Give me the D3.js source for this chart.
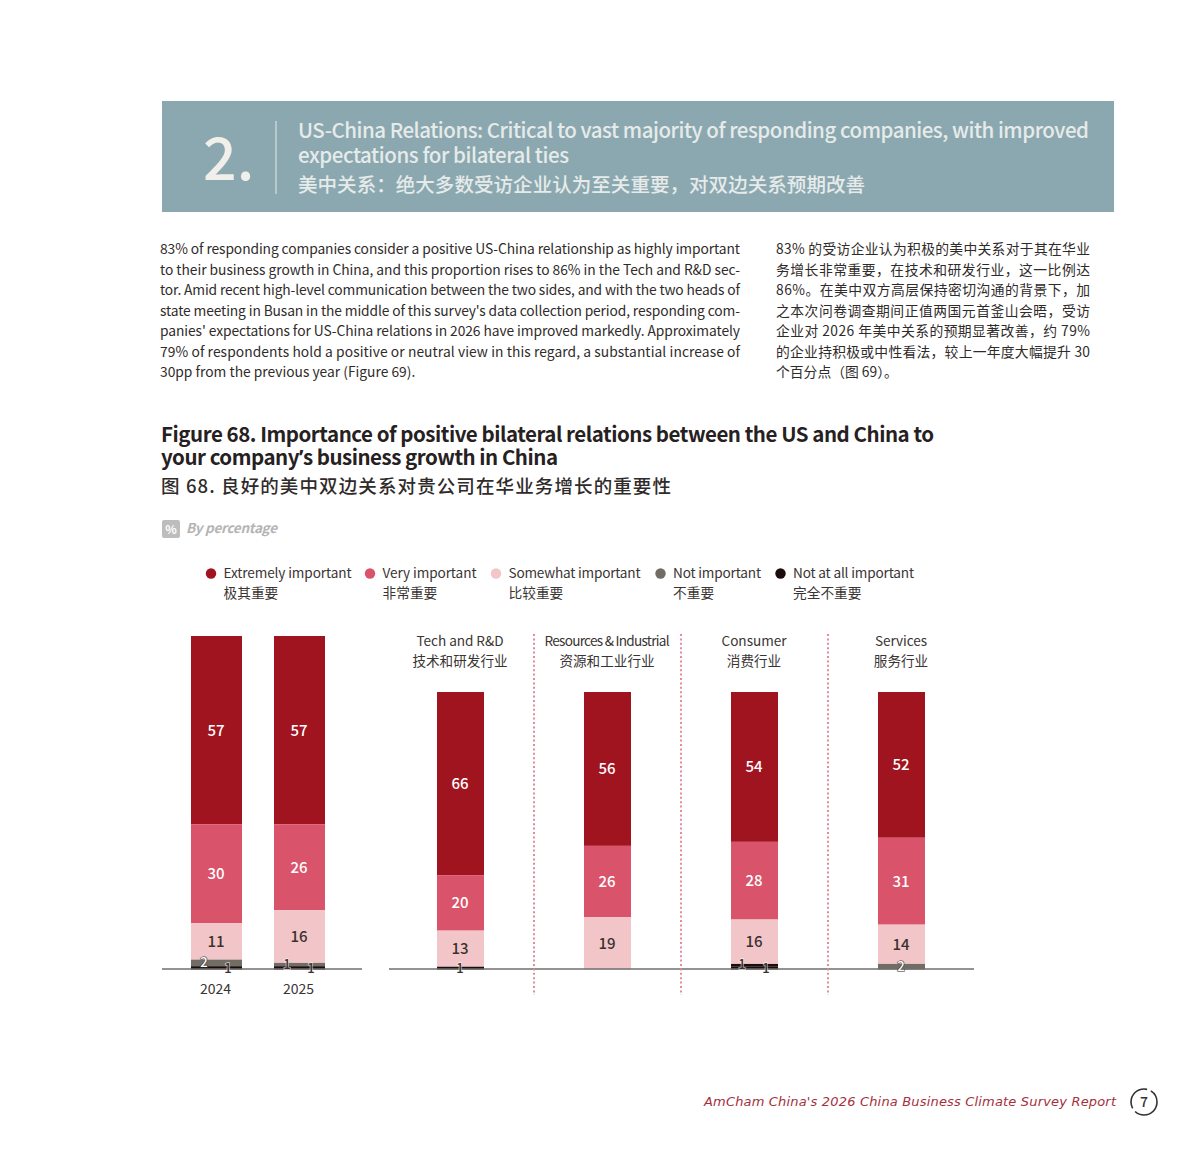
<!DOCTYPE html>
<html>
<head>
<meta charset="utf-8">
<title>Figure 68</title>
<script src="https://cdn.jsdelivr.net/npm/d3@7/dist/d3.min.js"></script>
<style>
  html, body { margin: 0; padding: 0; background: #fff; }
  svg { display: block; }
  text { font-family: "Noto Sans CJK SC", "Noto Sans", sans-serif; }
  tspan.apos { font-family: "Noto Sans", sans-serif; }
</style>
</head>
<body>
<svg id="page" width="1200" height="1155"></svg>
<script>
// data
var years = ["2024", "2025"];
var sectors = ["Tech and R&D", "Resources & Industrial", "Consumer", "Services"];
var sectorsCn = ["技术和研发行业", "资源和工业行业", "消费行业", "服务行业"];

var seriesNames = ["Extremely important", "Very important", "Somewhat important", "Not important", "Not at all important"];
var seriesNamesCn = ["极其重要", "非常重要", "比较重要", "不重要", "完全不重要"];

// order: 2024, 2025, then the four sectors
var extremely = [57, 57, 66, 56, 54, 52];
var very = [30, 26, 20, 26, 28, 31];
var somewhat = [11, 16, 13, 19, 16, 14];
var notImportant = [2, 1, 0, 0, 1, 2];
var notAtAll = [1, 1, 1, 0, 1, 0];

var bannerLines = [
    "US-China Relations: Critical to vast majority of responding companies, with improved",
    "expectations for bilateral ties"
];
var bannerCn = "美中关系：绝大多数受访企业认为至关重要，对双边关系预期改善";

var bodyEn = [
    "83% of responding companies consider a positive US-China relationship as highly important",
    "to their business growth in China, and this proportion rises to 86% in the Tech and R&D sec-",
    "tor. Amid recent high-level communication between the two sides, and with the two heads of",
    "state meeting in Busan in the middle of this survey's data collection period, responding com-",
    "panies' expectations for US-China relations in 2026 have improved markedly. Approximately",
    "79% of respondents hold a positive or neutral view in this regard, a substantial increase of",
    "30pp from the previous year (Figure 69)."
];
var bodyCn = [
    "83% 的受访企业认为积极的美中关系对于其在华业",
    "务增长非常重要，在技术和研发行业，这一比例达",
    "86%。在美中双方高层保持密切沟通的背景下，加",
    "之本次问卷调查期间正值两国元首釜山会晤，受访",
    "企业对 2026 年美中关系的预期显著改善，约 79%",
    "的企业持积极或中性看法，较上一年度大幅提升 30",
    "个百分点（图 69）。"
];

var figureTitle = [
    "Figure 68. Importance of positive bilateral relations between the US and China to",
    "your company’s business growth in China"
];
var figureTitleCn = "图 68. 良好的美中双边关系对贵公司在华业务增长的重要性";

var svg = d3.select("#page");
var colors = ["#a0141f", "#d9536b", "#f2c6c8", "#716c64", "#1b0d0d"];
var labelColors = ["#fff", "#fff", "#3a3230", "#fff", "#3a3230"];

var color = d3.scaleOrdinal(seriesNames, colors);
var labelColor = d3.scaleOrdinal(seriesNames, labelColors);

// banner
svg.append("rect").attr("x", 162).attr("y", 101).attr("width", 952).attr("height", 111).attr("fill", "#8ba8b0");
svg.append("text").attr("x", 203).attr("y", 180).attr("font-size", 59).attr("font-weight", 500)
    .attr("fill", "#f1efe9").text("2.");
svg.append("line").attr("x1", 276).attr("x2", 276).attr("y1", 121).attr("y2", 194)
    .attr("stroke", "#e8ebe9").attr("stroke-width", 1);
svg.selectAll(".banner").data(bannerLines).enter().append("text")
    .attr("class", "banner")
    .attr("x", 298)
    .attr("y", function(d, i) { return 138 + i * 24.5; })
    .attr("font-size", 20.5).attr("font-weight", 500).attr("fill", "#e6ebea")
    .attr("textLength", function(d, i) { return i == 0 ? 791 : 271; })
    .text(function(d) { return d; });
svg.append("text").attr("x", 298).attr("y", 192).attr("font-size", 19.5).attr("font-weight", 500)
    .attr("fill", "#e6ebea").attr("textLength", 567).text(bannerCn);

// body text
function bodyColumn(lines, x, width) {
    svg.append("g").selectAll("text").data(lines).enter().append("text")
        .attr("x", x)
        .attr("y", function(d, i) { return 254 + i * 20.5; })
        .attr("font-size", 13.8).attr("fill", "#2f2b2a")
        .attr("textLength", function(d, i) { return i < lines.length - 1 ? width : null; })
        .text(function(d) { return d; });
}
bodyColumn(bodyEn, 160, 580);
bodyColumn(bodyCn, 776, 314);

// figure title, the CJK font's curly quote is full width so it gets its own font
svg.append("g").selectAll("text").data(figureTitle).enter().append("text")
    .attr("x", 161)
    .attr("y", function(d, i) { return 442 + i * 23; })
    .attr("font-size", 20.5).attr("font-weight", 700).attr("fill", "#26211f")
    .attr("textLength", function(d, i) { return i == 0 ? 773 : 397; })
    .html(function(d) { return d.replace("’", '<tspan class="apos">’</tspan>'); });
svg.append("text").attr("x", 161).attr("y", 493).attr("font-size", 18.5).attr("font-weight", 500)
    .attr("fill", "#2f2b2a").attr("textLength", 510).text(figureTitleCn);

// unit tag
svg.append("rect").attr("x", 162).attr("y", 520).attr("width", 18).attr("height", 18).attr("rx", 2).attr("fill", "#bdbdbd");
svg.append("text").attr("x", 171).attr("y", 534).attr("text-anchor", "middle").attr("font-size", 12)
    .attr("font-weight", 700).attr("fill", "#fff").text("%");
svg.append("text").attr("x", 186).attr("y", 533).attr("font-size", 13.5).attr("font-style", "italic")
    .attr("font-weight", 700).attr("fill", "#b4b4b4").attr("textLength", 91).text("By percentage");

// legend
var legendX = d3.scaleOrdinal(seriesNames, [211, 370, 496, 660.5, 780.5]);
var legendWidth = d3.scaleOrdinal(seriesNames, [128, 94, 132, 88, 121]);
var legend = svg.append("g").selectAll("g").data(seriesNames).enter().append("g")
    .attr("transform", function(d) { return "translate(" + legendX(d) + ",0)"; });
legend.append("circle").attr("cy", 573.5).attr("r", 5.2).attr("fill", function(d) { return color(d); });
legend.append("text").attr("x", 12.5).attr("y", 578).attr("font-size", 13.6).attr("fill", "#3a3533")
    .attr("textLength", function(d) { return legendWidth(d); })
    .text(function(d) { return d; });
legend.append("text").attr("x", 12.5).attr("y", 598).attr("font-size", 13.7).attr("fill", "#3a3533")
    .text(function(d, i) { return seriesNamesCn[i]; });

// bars
var values = [extremely, very, somewhat, notImportant, notAtAll];
var allCategories = years.concat(sectors);
var rows = allCategories.map(function(c, i) {
    var row = { category: c };
    seriesNames.forEach(function(s, j) { row[s] = values[j][i]; });
    return row;
});
// every bar fills its panel even where rounding makes it 99 or 101
var stack = d3.stack().keys(seriesNames).order(d3.stackOrderReverse).offset(d3.stackOffsetExpand);
var stacked = stack(rows);

var BASELINE = 969.5;
var yYears = d3.scaleLinear().domain([1, 0]).range([636, BASELINE]);
var ySectors = d3.scaleLinear().domain([1, 0]).range([692, BASELINE]);
var xYears = d3.scaleBand().domain(years).range([191, 325]).paddingInner(32 / 83);
var xSectors = d3.scaleBand().domain(sectors).range([437, 925]).paddingInner(100 / 147);

function xOf(cat) { return years.indexOf(cat) >= 0 ? xYears(cat) : xSectors(cat); }
function widthOf(cat) { return years.indexOf(cat) >= 0 ? xYears.bandwidth() : xSectors.bandwidth(); }
function yOf(cat) { return years.indexOf(cat) >= 0 ? yYears : ySectors; }

var layers = svg.append("g").selectAll("g").data(stacked).enter().append("g")
    .attr("fill", function(d) { return color(d.key); });
layers.selectAll("rect").data(function(d) { return d; }).enter().append("rect")
    .attr("x", function(d) { return xOf(d.data.category); })
    .attr("width", function(d) { return widthOf(d.data.category); })
    .attr("y", function(d) { return yOf(d.data.category)(d[1]); })
    .attr("height", function(d) { return yOf(d.data.category)(d[0]) - yOf(d.data.category)(d[1]); })
    // the Consumer bar prints its "Not important" slice black too
    .attr("fill", function(d) {
        var isConsumerGrey = d.data.category == "Consumer" && d[1] - d[0] > 0 && d[0] > 0 && d[0] < 0.02;
        return isConsumerGrey ? colors[4] : null;
    });

// baselines and dotted separators
svg.append("line").attr("x1", 162).attr("x2", 362).attr("y1", 969).attr("y2", 969).attr("stroke", "#6f6f6f").attr("stroke-width", 1.6);
svg.append("line").attr("x1", 389).attr("x2", 974).attr("y1", 969).attr("y2", 969).attr("stroke", "#6f6f6f").attr("stroke-width", 1.6);

var separators = sectors.slice(1);
svg.append("g").selectAll("line").data(separators).enter().append("line")
    .attr("x1", function(d) { return xSectors(d) - xSectors.step() * 0.34; })
    .attr("x2", function(d) { return xSectors(d) - xSectors.step() * 0.34; })
    .attr("y1", 634).attr("y2", 995)
    .attr("stroke", "#e58a9b").attr("stroke-width", 2).attr("stroke-dasharray", "2 2.4");

// value labels
stacked.forEach(function(layer) {
    var j = seriesNames.indexOf(layer.key);
    svg.append("g").selectAll("text")
        .data(layer.filter(function(d) { return d.data[layer.key] > 0; }))
        .enter().append("text")
        .attr("x", function(d) {
            var c = d.data.category;
            var center = xOf(c) + widthOf(c) / 2 - 0.5;
            // the two thin slices sit side by side when a bar has both
            var both = d.data[seriesNames[3]] > 0 && d.data[seriesNames[4]] > 0;
            if (both && j == 3) return center - 12;
            if (both && j == 4) return center + 12;
            return center;
        })
        .attr("y", function(d) {
            var y = yOf(d.data.category);
            var mid = (y(d[0]) + y(d[1])) / 2;
            if (j == 4) return mid + 5;
            return j == 3 ? mid + 4 : mid + 5.5;
        })
        .attr("text-anchor", "middle")
        .attr("font-size", j > 2 ? 13 : 15)
        .attr("font-weight", 500)
        .attr("fill", function(d) {
            return j == 3 && d.data[layer.key] == 1 ? "#3a3230" : labelColor(layer.key);
        })
        .attr("stroke", function(d) {
            if (j < 3) return null;
            return j == 3 && d.data[layer.key] == 2 ? "rgba(50,45,45,0.7)" : "rgba(255,255,255,0.65)";
        })
        .attr("stroke-width", 1.5)
        .style("paint-order", "stroke")
        .text(function(d) { return d.data[layer.key]; });
});

// category labels
svg.append("g").selectAll("text").data(years).enter().append("text")
    .attr("x", function(d) { return xYears(d) + xYears.bandwidth() / 2 - 1; })
    .attr("y", 994).attr("text-anchor", "middle").attr("font-size", 14).attr("fill", "#3a3533")
    .text(function(d) { return d; });
var sectorWidths = [87, 125, 65, 52];
var heads = svg.append("g").selectAll("g").data(sectors).enter().append("g")
    .attr("transform", function(d) { return "translate(" + (xSectors(d) + xSectors.bandwidth() / 2 - 0.5) + ",0)"; })
    .attr("text-anchor", "middle").attr("font-size", 13.6).attr("fill", "#3a3533");
heads.append("text").attr("y", 646)
    .attr("textLength", function(d, i) { return sectorWidths[i]; })
    .text(function(d) { return d; });
heads.append("text").attr("y", 666).text(function(d, i) { return sectorsCn[i]; });

// footer
svg.append("text").attr("x", 704).attr("y", 1106)
    .style("font-family", "'DejaVu Sans'")
    .attr("font-style", "italic").attr("font-size", 13).attr("fill", "#a5303c")
    .attr("textLength", 412).text("AmCham China's 2026 China Business Climate Survey Report");
svg.append("circle").attr("cx", 1144).attr("cy", 1102).attr("r", 13).attr("fill", "none")
    .attr("stroke", "#33302f").attr("stroke-width", 1.6).attr("stroke-dasharray", "30 4");
svg.append("text").attr("x", 1144).attr("y", 1107).attr("text-anchor", "middle").attr("font-size", 14)
    .attr("font-weight", 500).attr("fill", "#33302f").text("7");
</script>
</body>
</html>
